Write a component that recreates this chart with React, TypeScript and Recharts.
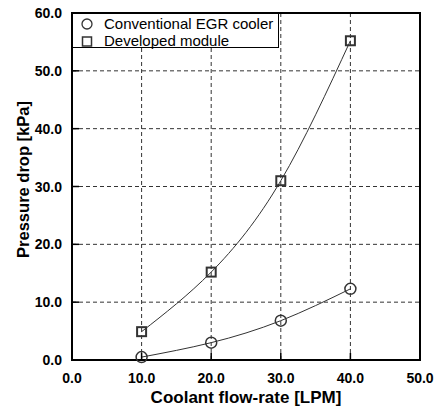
import React from "react";
import {
  LineChart,
  Line,
  XAxis,
  YAxis,
  CartesianGrid,
  ReferenceArea,
  Label,
} from "recharts";

const flowRates = [10, 20, 30, 40];
const conventional = [0.5, 3.0, 6.8, 12.3];
const developed = [4.9, 15.2, 31.0, 55.2];
const xTicks = [0, 10, 20, 30, 40, 50];
const yTicks = [0, 10, 20, 30, 40, 50, 60];
const seriesNames = ["Conventional EGR cooler", "Developed module"];

const data = flowRates.map((x, i) => ({ x, conv: conventional[i], dev: developed[i] }));

const FONT = "'Liberation Sans', Arial, Helvetica, sans-serif";
const LINE_COLOR = "#333";

const YTick = (props: any) => {
  const { x, y, payload } = props;
  return (
    <g>
      <line x1={x} x2={x + 7} y1={y} y2={y} stroke="#000" strokeWidth={1.5} />
      <text
        x={x - 10}
        y={y}
        textAnchor="end"
        dominantBaseline="central"
        fontFamily={FONT}
        fontWeight="bold"
        fontSize={14}
        fill="#000"
      >
        {Number(payload.value).toFixed(1)}
      </text>
    </g>
  );
};

const XTick = (props: any) => {
  const { x, y, payload } = props;
  return (
    <g>
      <line x1={x} x2={x} y1={y} y2={y - 7} stroke="#000" strokeWidth={1.5} />
      <text
        x={x}
        y={y + 18}
        textAnchor="middle"
        dominantBaseline="central"
        fontFamily={FONT}
        fontWeight="bold"
        fontSize={14}
        fill="#000"
      >
        {Number(payload.value).toFixed(1)}
      </text>
    </g>
  );
};

const CircleDot = (props: any) => {
  const { cx, cy, index } = props;
  if (cx == null || cy == null) return <g key={index} />;
  return <circle key={index} cx={cx} cy={cy} r={5.5} fill="none" stroke={LINE_COLOR} strokeWidth={1.5} />;
};

const SquareDot = (props: any) => {
  const { cx, cy, index } = props;
  if (cx == null || cy == null) return <g key={index} />;
  return (
    <rect
      key={index}
      x={cx - 4.5}
      y={cy - 4.5}
      width={9}
      height={9}
      fill="none"
      stroke={LINE_COLOR}
      strokeWidth={2}
    />
  );
};

export default function App() {
  return (
    <div style={{ position: "absolute", left: 0, top: 0, width: 439, height: 407, overflow: "hidden" }}>
      <LineChart
        width={439}
        height={407}
        data={data}
        margin={{ top: 13, right: 19, left: 8, bottom: 0 }}
      >
        <CartesianGrid
          stroke="#333"
          strokeDasharray="4 3"
          strokeWidth={1}
          horizontalValues={yTicks}
          verticalValues={xTicks}
        />
        <XAxis
          dataKey="x"
          type="number"
          domain={[0, 50]}
          ticks={xTicks}
          height={47}
          tickSize={0}
          tickMargin={0}
          tickLine={false}
          axisLine={{ stroke: "#000", strokeWidth: 2 }}
          tick={<XTick />}
          interval={0}
        >
          <Label
            content={(p: any) => {
              const vb = p.viewBox || {};
              return (
                <text
                  x={vb.x + vb.width / 2}
                  y={vb.y + 37}
                  textAnchor="middle"
                  dominantBaseline="central"
                  fontFamily={FONT}
                  fontWeight="bold"
                  fontSize={17}
                  fill="#000"
                >
                  Coolant flow-rate [LPM]
                </text>
              );
            }}
          />
        </XAxis>
        <YAxis
          type="number"
          domain={[0, 60]}
          ticks={yTicks}
          width={64}
          tickSize={0}
          tickMargin={0}
          tickLine={false}
          axisLine={{ stroke: "#000", strokeWidth: 2 }}
          tick={<YTick />}
          interval={0}
        >
          <Label
            content={(p: any) => {
              const vb = p.viewBox || {};
              const cx = vb.x + 15;
              const cy = vb.y + vb.height / 2 - 7;
              return (
                <text
                  x={cx}
                  y={cy}
                  transform={`rotate(-90 ${cx} ${cy})`}
                  textAnchor="middle"
                  dominantBaseline="central"
                  fontFamily={FONT}
                  fontWeight="bold"
                  fontSize={16.5}
                  fill="#000"
                >
                  Pressure drop [kPa]
                </text>
              );
            }}
          />
        </YAxis>
        <ReferenceArea
          x1={0}
          x2={50}
          y1={0}
          y2={60}
          fill="none"
          fillOpacity={0}
          stroke="#000"
          strokeWidth={2}
          ifOverflow="visible"
        />
        <Line
          dataKey="conv"
          name={seriesNames[0]}
          type="natural"
          stroke={LINE_COLOR}
          strokeWidth={1}
          dot={<CircleDot />}
          activeDot={false}
          isAnimationActive={false}
        />
        <Line
          dataKey="dev"
          name={seriesNames[1]}
          type="natural"
          stroke={LINE_COLOR}
          strokeWidth={1}
          dot={<SquareDot />}
          activeDot={false}
          isAnimationActive={false}
        />
      </LineChart>
      <div
        style={{
          position: "absolute",
          left: 72,
          top: 13,
          width: 207,
          height: 35,
          boxSizing: "border-box",
          border: "1px solid #000",
          background: "#fff",
          fontFamily: FONT,
          fontSize: 15,
          color: "#000",
        }}
      >
        <svg width={30} height={33} style={{ position: "absolute", left: 0, top: 0 }}>
          <circle cx={14} cy={10} r={5} fill="none" stroke={LINE_COLOR} strokeWidth={1.3} />
          <rect x={9.5} y={23} width={9} height={9} fill="none" stroke={LINE_COLOR} strokeWidth={1.5} />
        </svg>
        <div style={{ position: "absolute", left: 31, top: 1, lineHeight: "17px", whiteSpace: "nowrap" }}>
          {seriesNames[0]}
        </div>
        <div style={{ position: "absolute", left: 31, top: 18, lineHeight: "17px", whiteSpace: "nowrap" }}>
          {seriesNames[1]}
        </div>
      </div>
    </div>
  );
}
